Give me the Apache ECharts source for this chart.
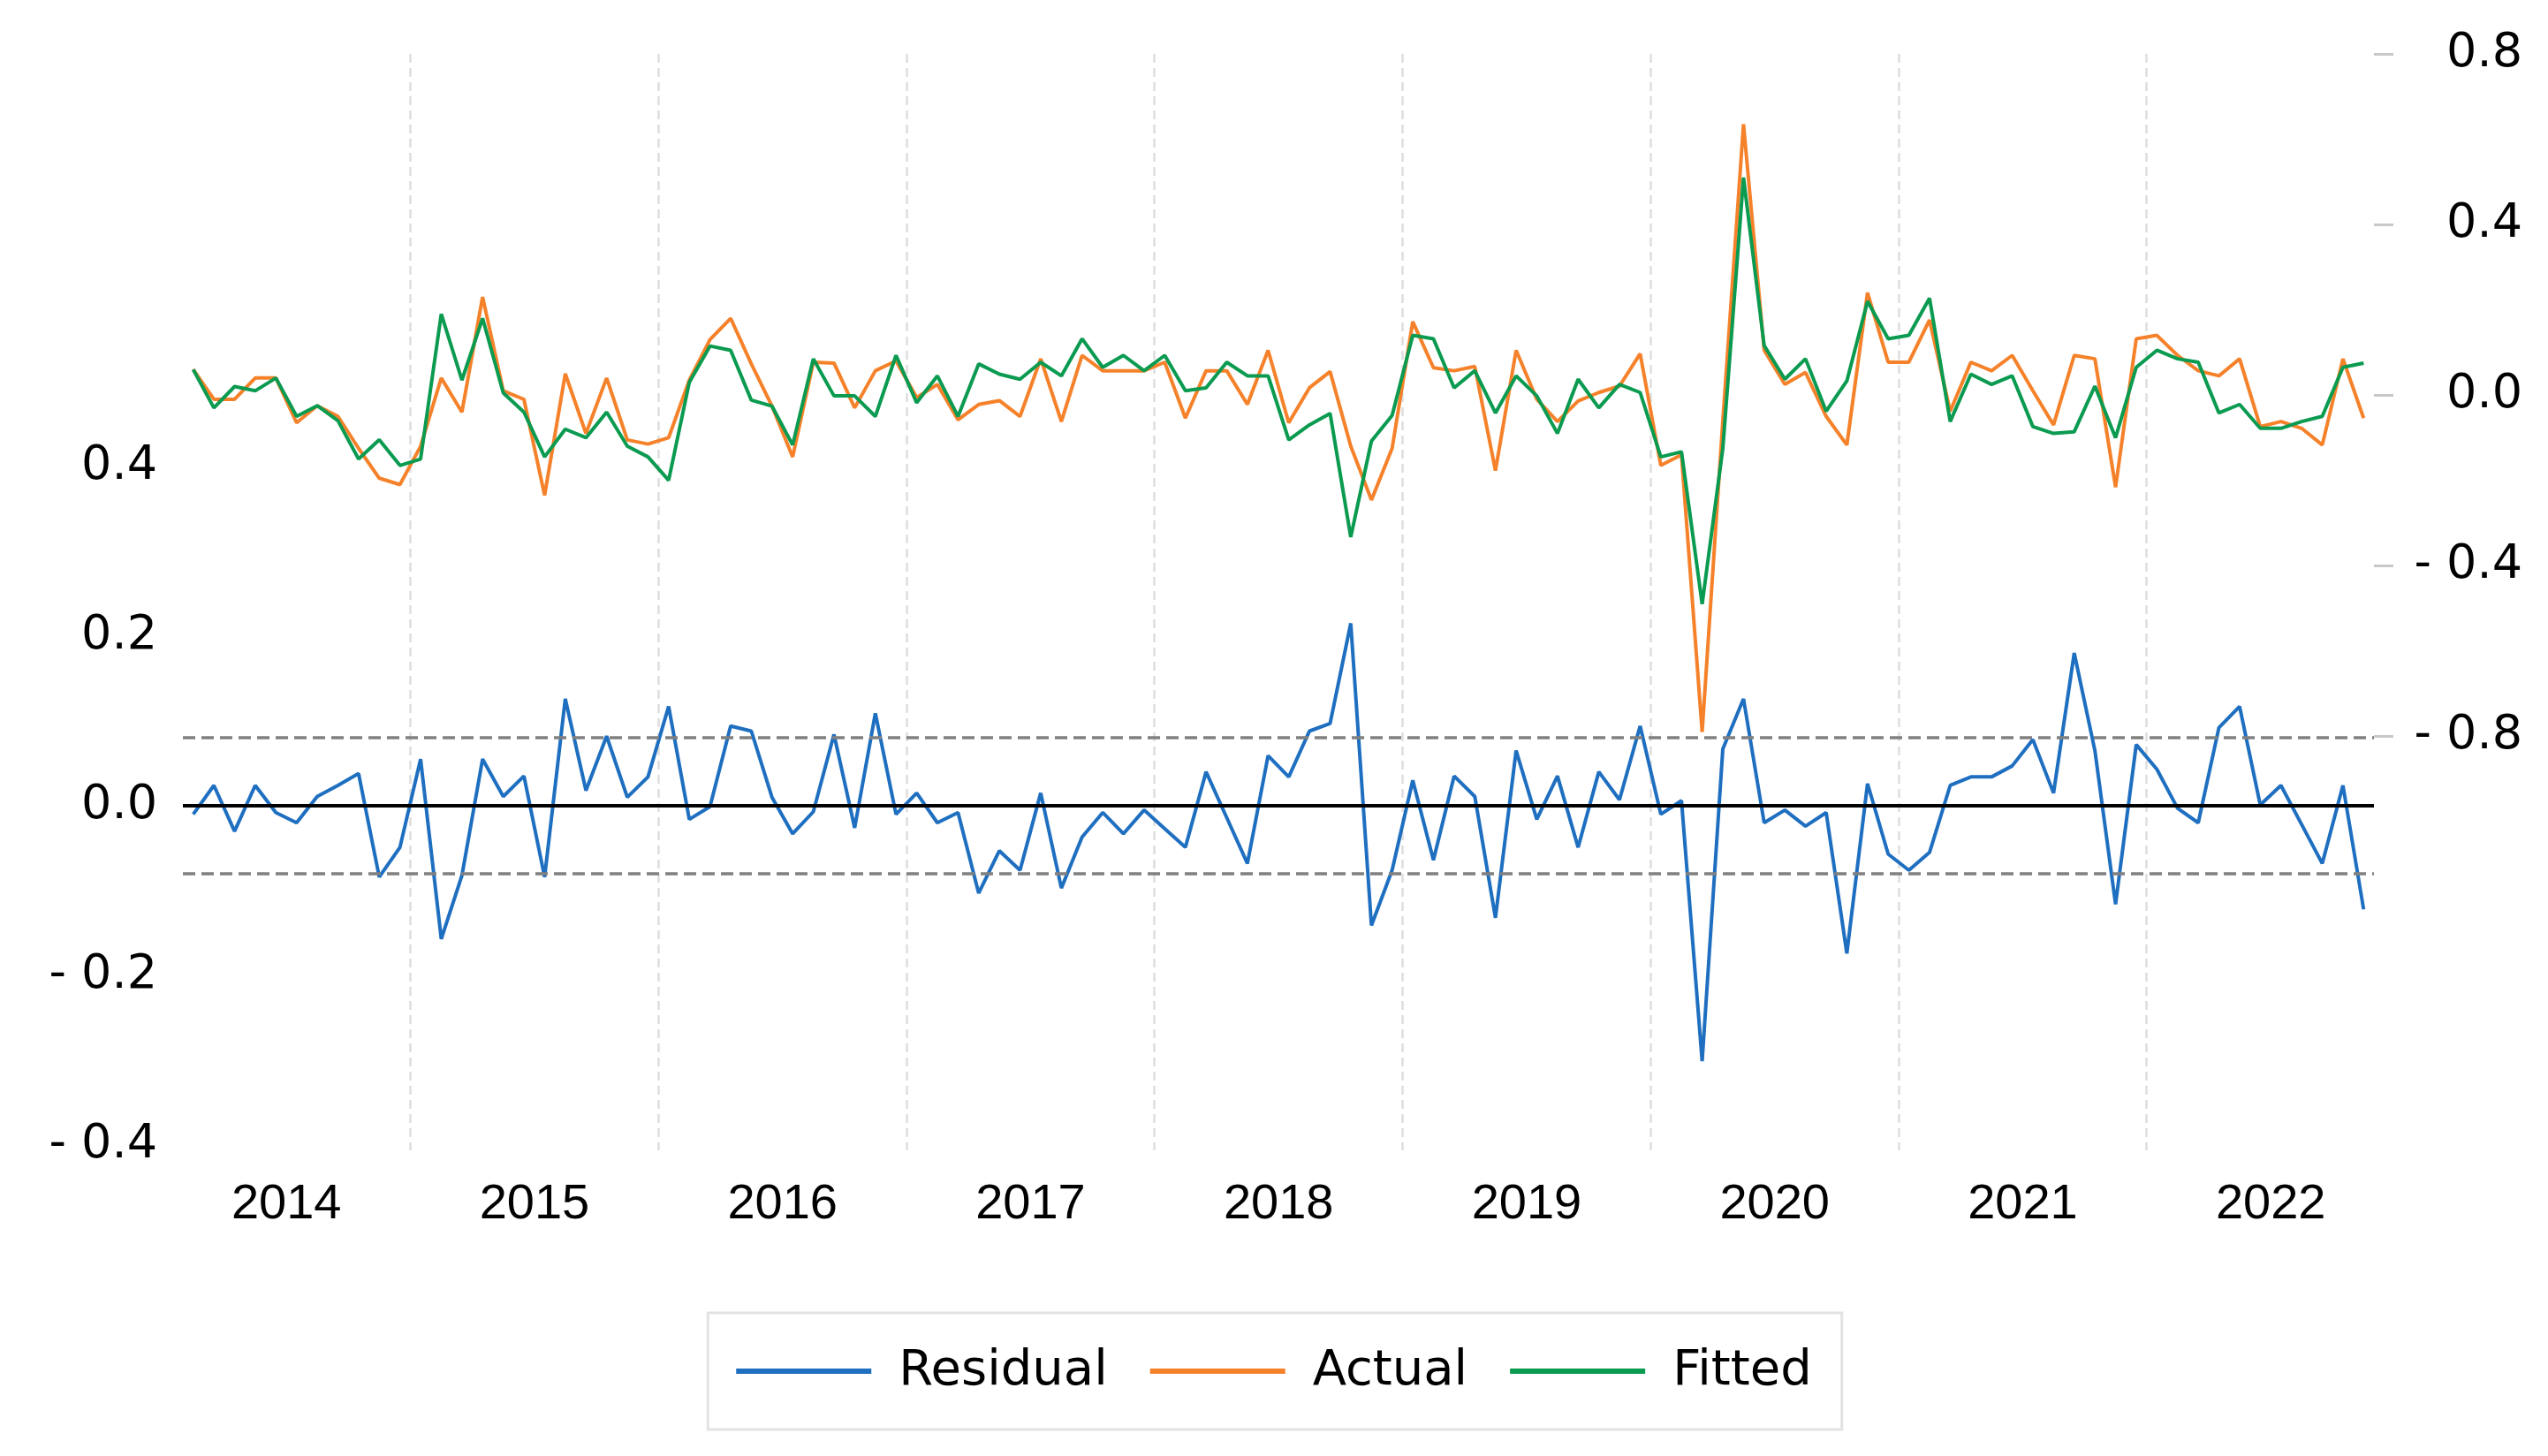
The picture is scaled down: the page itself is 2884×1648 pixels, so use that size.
<!DOCTYPE html>
<html>
<head>
<meta charset="utf-8">
<script src="https://cdn.jsdelivr.net/npm/echarts@6/dist/echarts.min.js"></script>
<style>html,body{margin:0;padding:0;background:#fff;}#c{width:2884px;height:1648px;}</style>
</head>
<body>
<div id="c"></div>
<script>
// Monthly sample 2014M02 - 2022M11
const startYear = 2014, startMonth = 2, nObs = 106;
const categories = [];
for (let k = 0; k < nObs; k++) {
  const m = startMonth - 1 + k;
  const y = startYear + Math.floor(m / 12);
  const mm = (m % 12) + 1;
  categories.push(y + '-' + (mm < 10 ? '0' + mm : '' + mm));
}

const residual = [
  -0.010, 0.024, -0.030, 0.024, -0.008, -0.020, 0.011, 0.024, 0.038, -0.084,
  -0.049, 0.055, -0.157, -0.082, 0.055, 0.011, 0.035, -0.084, 0.126, 0.018,
  0.082, 0.010, 0.034, 0.117, -0.016, -0.001, 0.094, 0.088, 0.010, -0.033,
  -0.007, 0.084, -0.026, 0.109, -0.010, 0.015, -0.020, -0.008, -0.103, -0.053,
  -0.076, 0.015, -0.097, -0.037, -0.008, -0.033, -0.005, -0.027, -0.049, 0.040,
  -0.014, -0.068, 0.059, 0.034, 0.088, 0.097, 0.215, -0.141, -0.076, 0.030,
  -0.064, 0.035, 0.011, -0.132, 0.065, -0.016, 0.035, -0.049, 0.040, 0.007,
  0.094, -0.010, 0.006, -0.301, 0.067, 0.126, -0.020, -0.005, -0.024, -0.008,
  -0.174, 0.026, -0.057, -0.076, -0.055, 0.024, 0.034, 0.034, 0.047, 0.078,
  0.015, 0.180, 0.065, -0.116, 0.072, 0.043, -0.003, -0.020, 0.092, 0.117,
  0.001, 0.024, -0.022, -0.068, 0.024, -0.122
];

const actual = [
  0.060, -0.010, -0.010, 0.040, 0.040, -0.065, -0.025, -0.050, -0.125, -0.195,
  -0.210, -0.120, 0.040, -0.040, 0.230, 0.010, -0.010, -0.235, 0.050, -0.090,
  0.040, -0.105, -0.115, -0.100, 0.035, 0.130, 0.180, 0.073, -0.026, -0.145,
  0.077, 0.075, -0.030, 0.057, 0.080, -0.006, 0.025, -0.058, -0.022, -0.013,
  -0.050, 0.085, -0.062, 0.093, 0.057, 0.057, 0.057, 0.077, -0.054, 0.057,
  0.057, -0.022, 0.105, -0.065, 0.017, 0.055, -0.120, -0.246, -0.125, 0.172,
  0.064, 0.057, 0.067, -0.177, 0.105, -0.010, -0.062, -0.014, 0.006, 0.021,
  0.097, -0.165, -0.140, -0.790, -0.060, 0.635, 0.105, 0.025, 0.053, -0.050,
  -0.117, 0.240, 0.077, 0.077, 0.176, -0.038, 0.077, 0.057, 0.093, 0.010,
  -0.070, 0.093, 0.085, -0.216, 0.132, 0.140, 0.093, 0.057, 0.045, 0.085,
  -0.074, -0.062, -0.078, -0.117, 0.085, -0.054
];

const fitted = [
  0.060, -0.030, 0.020, 0.010, 0.040, -0.050, -0.025, -0.060, -0.150, -0.105,
  -0.165, -0.150, 0.190, 0.035, 0.180, 0.005, -0.040, -0.145, -0.080, -0.100,
  -0.040, -0.120, -0.145, -0.200, 0.030, 0.115, 0.105, -0.012, -0.026, -0.117,
  0.085, -0.002, -0.002, -0.050, 0.093, -0.018, 0.045, -0.050, 0.073, 0.049,
  0.037, 0.077, 0.045, 0.132, 0.065, 0.093, 0.057, 0.093, 0.010, 0.017,
  0.077, 0.045, 0.045, -0.105, -0.070, -0.043, -0.333, -0.108, -0.048, 0.140,
  0.132, 0.017, 0.057, -0.042, 0.045, -0.002, -0.090, 0.037, -0.030, 0.025,
  0.006, -0.145, -0.133, -0.490, -0.125, 0.510, 0.116, 0.037, 0.085, -0.038,
  0.033, 0.220, 0.132, 0.140, 0.227, -0.062, 0.049, 0.025, 0.045, -0.074,
  -0.090, -0.086, 0.021, -0.100, 0.065, 0.105, 0.085, 0.077, -0.042, -0.022,
  -0.078, -0.078, -0.062, -0.050, 0.065, 0.075
];

const leftTicks = [-0.4, -0.2, 0.0, 0.2, 0.4];
const rightTicks = [-0.8, -0.4, 0.0, 0.4, 0.8];
const residualSE = 0.082;

function fmt(v) {
  if (Math.abs(v) < 1e-9) return '0.0';
  return v < 0 ? '- ' + (-v).toFixed(1) : v.toFixed(1);
}

const chart = echarts.init(document.getElementById('c'), null, {renderer: 'canvas'});
chart.setOption({
  animation: false,
  backgroundColor: '#ffffff',
  grid: {left: 207, right: 197, top: 61, bottom: 346, containLabel: false},
  legend: {
    data: ['Residual', 'Actual', 'Fitted'],
    left: 'center',
    top: 1486,
    icon: 'rect',
    itemWidth: 153,
    itemHeight: 6,
    itemGap: 48,
    borderColor: '#e3e3e3',
    borderWidth: 3,
    backgroundColor: '#ffffff',
    padding: [38, 34, 38, 32],
    textStyle: {fontFamily: 'DejaVu Sans', fontSize: 56, color: '#000', padding: [0, 0, 0, 26], lineHeight: 50}
  },
  xAxis: {
    type: 'category',
    data: categories,
    boundaryGap: true,
    axisLine: {show: false},
    axisTick: {show: false},
    axisLabel: {
      interval: function (i, v) { return v.slice(5) === '07'; },
      formatter: function (v) { return v.slice(0, 4); },
      fontFamily: 'Liberation Sans',
      fontSize: 56,
      color: '#000',
      margin: 34,
      padding: [0, 23, 0, 0]
    },
    splitLine: {
      show: true,
      showMaxLine: false,
      interval: function (i, v) { return typeof v === 'string' && v.slice(5) === '01'; },
      lineStyle: {color: '#dedede', type: [10, 6], width: 2.5}
    }
  },
  yAxis: [
    {
      type: 'value',
      position: 'left',
      min: -0.406,
      max: 0.886,
      axisLine: {show: false},
      axisTick: {show: false},
      splitLine: {show: false},
      axisLabel: {
        customValues: leftTicks,
        formatter: fmt,
        fontFamily: 'DejaVu Sans',
        fontSize: 54,
        color: '#000',
        margin: 29
      }
    },
    {
      type: 'value',
      position: 'right',
      min: -1.771,
      max: 0.8,
      axisLine: {show: false},
      axisTick: {show: true, customValues: rightTicks, length: 22, lineStyle: {color: '#c8c8c8', width: 3}},
      splitLine: {show: false},
      axisLabel: {
        customValues: rightTicks,
        formatter: fmt,
        align: 'right',
        fontFamily: 'DejaVu Sans',
        fontSize: 54,
        color: '#000',
        margin: 168
      }
    }
  ],
  series: [
    {
      name: 'Residual',
      type: 'line',
      yAxisIndex: 0,
      data: residual,
      symbol: 'none',
      color: '#1f6fc1',
      lineStyle: {color: '#1f6fc1', width: 4},
      markLine: {
        silent: true,
        symbol: ['none', 'none'],
        label: {show: false},
        data: [
          {yAxis: 0, lineStyle: {color: '#000000', width: 4, type: 'solid'}},
          {yAxis: residualSE, lineStyle: {color: '#808080', width: 3.5, type: [14, 7]}},
          {yAxis: -residualSE, lineStyle: {color: '#808080', width: 3.5, type: [14, 7]}}
        ]
      }
    },
    {
      name: 'Actual',
      type: 'line',
      yAxisIndex: 1,
      data: actual,
      symbol: 'none',
      color: '#f5822a',
      lineStyle: {color: '#f5822a', width: 4}
    },
    {
      name: 'Fitted',
      type: 'line',
      yAxisIndex: 1,
      data: fitted,
      symbol: 'none',
      color: '#0a9a50',
      lineStyle: {color: '#0a9a50', width: 4}
    }
  ]
});
</script>
</body>
</html>
